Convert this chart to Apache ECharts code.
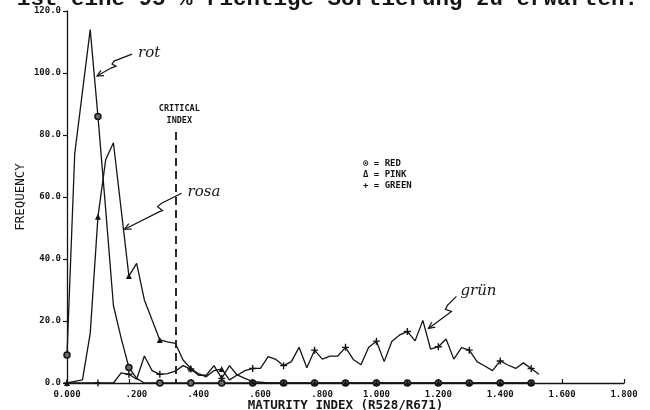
<!DOCTYPE html>
<html>
<head>
<meta charset="utf-8">
<script src="https://cdn.jsdelivr.net/npm/echarts@6/dist/echarts.min.js"></script>
<style>
  html, body { margin: 0; padding: 0; background: #fff; }
  #c { width: 650px; height: 410px; }
</style>
</head>
<body>
<div id="c"></div>
<script>
// Histogram bins of the maturity index (R528/R671), step 0.025
const bins = [0, 0.025, 0.05, 0.075, 0.1, 0.125, 0.15, 0.175, 0.2, 0.225, 0.25, 0.275, 0.3, 0.325, 0.35, 0.375,
  0.4, 0.425, 0.45, 0.475, 0.5, 0.525, 0.55, 0.575, 0.6, 0.625, 0.65, 0.675, 0.7, 0.725, 0.75, 0.775,
  0.8, 0.825, 0.85, 0.875, 0.9, 0.925, 0.95, 0.975, 1.0, 1.025, 1.05, 1.075, 1.1, 1.125, 1.15, 1.175,
  1.2, 1.225, 1.25, 1.275, 1.3, 1.325, 1.35, 1.375, 1.4, 1.425, 1.45, 1.475, 1.5, 1.525];

// Frequencies per bin
const red = [9, 74, 94, 114, 86, 56, 25, 14.5, 5, 1.5, 0, 0, 0, 0, 0, 0,
  0, 0, 0, 0, 0, 0, 0, 0, 0, 0, 0, 0, 0, 0, 0, 0,
  0, 0, 0, 0, 0, 0, 0, 0, 0, 0, 0, 0, 0, 0, 0, 0,
  0, 0, 0, 0, 0, 0, 0, 0, 0, 0, 0, 0, 0];
const pink = [0, 0.5, 1, 16, 53.6, 72, 77.5, 56, 34.5, 38.6, 26.8, 20.3, 13.9, 13.3, 12.8, 7.4,
  4.7, 3, 2, 4, 4.5, 1, 2.6, 1.5, 0.4, 0.3, 0, 0, 0, 0, 0, 0,
  0, 0, 0, 0, 0, 0, 0, 0, 0, 0, 0, 0, 0, 0, 0, 0,
  0, 0, 0, 0, 0, 0, 0, 0, 0, 0, 0, 0, 0];
const green = [0, 0, 0, 0, 0, 0, 0, 3.3, 2.8, 1.2, 8.7, 4.0, 2.8, 3.0, 3.8, 5.6,
  4.5, 2.5, 2.5, 5.6, 1.5, 5.6, 2.5, 4.0, 4.7, 4.7, 8.5, 7.6, 5.6, 6.9, 11.5, 4.9,
  10.6, 7.7, 8.7, 8.7, 11.5, 7.6, 5.9, 11.5, 13.5, 6.9, 13.5, 15.5, 16.6, 13.6, 20.2, 10.9,
  11.7, 14.2, 7.7, 11.4, 10.6, 6.9, 5.5, 4.0, 7.1, 5.8, 4.7, 6.5, 4.7, 2.8];

// Axis tick labels
const xTickLabels = ['0.000', '.200', '.400', '.600', '.800', '1.000', '1.200', '1.400', '1.600', '1.800'];
const yTickLabels = ['0.0', '20.0', '40.0', '60.0', '80.0', '100.0', '120.0'];

// Critical index marker
const criticalIndex = 0.35;
const criticalTop = 81;

const INK = '#151515';
const PLOT_FONT = 'DejaVu Sans Mono';
const HAND_FONT = 'DejaVu Serif';

const chart = echarts.init(document.getElementById('c'), null, { renderer: 'canvas' });

// A marker is plotted on every fourth bin (every 0.1 of the index)
function points(vals, sym) {
  return vals.map((v, i) => ({ value: [bins[i], v], symbol: i % 4 === 0 ? sym : 'none' }));
}

const lineBase = {
  type: 'line',
  showAllSymbol: true,
  symbolSize: 6,
  lineStyle: { color: INK, width: 1.3 },
  emphasis: { disabled: true },
  animation: false
};

const labelFont = { fontFamily: PLOT_FONT, fontSize: 9, fontWeight: 'bold', color: INK };

chart.setOption({
  animation: false,
  backgroundColor: '#fff',
  grid: { left: 67, right: 26, top: 11, bottom: 27, containLabel: false, outerBoundsMode: 'none' },
  xAxis: {
    type: 'value', min: 0, max: 1.8, interval: 0.2,
    name: 'MATURITY INDEX (R528/R671)', nameLocation: 'middle', nameGap: 16, nameMoveOverlap: false,
    nameTextStyle: { fontFamily: PLOT_FONT, fontSize: 12.5, fontWeight: 'bold', color: INK, verticalAlign: 'top' },
    axisLine: { show: true, lineStyle: { color: INK, width: 1.3 } },
    axisTick: { show: true, inside: true, length: 4, lineStyle: { color: INK, width: 1.2 } },
    splitLine: { show: false },
    axisLabel: Object.assign({
      margin: 7,
      formatter: v => {
        const s = xTickLabels[Math.round(v / 0.2)];
        return s.charAt(0) === '.' ? '{p|' + s + '}' : s;
      },
      rich: { p: Object.assign({ padding: [0, 0, 0, 15] }, labelFont) }
    }, labelFont)
  },
  yAxis: {
    type: 'value', min: 0, max: 120, interval: 20,
    name: 'FREQUENCY', nameLocation: 'middle', nameGap: 40, nameRotate: 90, nameMoveOverlap: false,
    nameTextStyle: { fontFamily: PLOT_FONT, fontSize: 12.5, color: INK },
    axisLine: { show: true, lineStyle: { color: INK, width: 1.3 } },
    axisTick: { show: true, inside: false, length: 4, lineStyle: { color: INK, width: 1.2 } },
    splitLine: { show: false },
    axisLabel: Object.assign({
      margin: 6,
      formatter: v => yTickLabels[Math.round(v / 20)]
    }, labelFont)
  },
  series: [
    Object.assign({}, lineBase, {
      name: 'RED',
      data: points(red, 'circle'),
      itemStyle: { color: '#6a6a6a', borderColor: INK, borderWidth: 1.5 },
      markLine: {
        silent: true,
        symbol: ['none', 'none'],
        label: { show: false },
        lineStyle: { color: INK, width: 1.8, type: [8, 5] },
        data: [[{ coord: [criticalIndex, criticalTop] }, { coord: [criticalIndex, 0] }]]
      }
    }),
    Object.assign({}, lineBase, {
      name: 'PINK',
      data: points(pink, 'triangle'),
      itemStyle: { color: INK }
    }),
    Object.assign({}, lineBase, {
      name: 'GREEN',
      data: points(green, 'path://M4,0H6V4H10V6H6V10H4V6H0V4H4Z'),
      symbolSize: 7,
      itemStyle: { color: INK }
    })
  ]
});

// Hand-written notes: label text plus a zig-zag arrow ending on a curve
const notes = [
  { text: 'rot', tip: [0.097, 99], textAt: [41, -23],
    path: [[35, -22], [17, -15], [15, -12], [19, -10], [14, -8], [0, 0]] },
  { text: 'rosa', tip: [0.186, 49.6], textAt: [63, -37],
    path: [[57, -36], [37, -26], [33, -22.6], [38, -18.6], [35, -17.6], [0, 0]] },
  { text: 'grün', tip: [1.168, 17.6], textAt: [32, -37],
    path: [[28, -32], [19, -23], [17, -19], [23, -17], [19, -14], [0, 0]] }
];

function buildGraphics() {
  const g = [];
  // Page text above the figure
  g.push({
    type: 'text', left: 17, top: -12, silent: true,
    style: { text: 'ist eine 95 % richtige Sortierung zu erwarten.', font: 'bold 22.5px "Liberation Mono"', fill: INK }
  });

  // Critical index caption
  const cx = chart.convertToPixel({ xAxisIndex: 0 }, criticalIndex);
  const cy = chart.convertToPixel({ yAxisIndex: 0 }, criticalTop);
  g.push({
    type: 'text', x: cx + 4, y: cy - 23, silent: true,
    style: { text: 'CRITICAL', font: 'bold 8.5px "DejaVu Sans Mono"', fill: INK, align: 'center', verticalAlign: 'middle' }
  });
  g.push({
    type: 'text', x: cx + 4, y: cy - 11, silent: true,
    style: { text: 'INDEX', font: 'bold 8.5px "DejaVu Sans Mono"', fill: INK, align: 'center', verticalAlign: 'middle' }
  });

  // Symbol key
  const key = ['\u2299 = RED', '\u0394 = PINK', '+ = GREEN'];
  key.forEach((t, i) => {
    g.push({
      type: 'text', x: 363, y: 164 + i * 11, silent: true,
      style: { text: t, font: 'bold 9px "DejaVu Sans Mono"', fill: INK, align: 'left', verticalAlign: 'middle' }
    });
  });

  // Annotations
  notes.forEach(n => {
    const p = chart.convertToPixel({ gridIndex: 0 }, n.tip);
    const pts = n.path.map(d => [p[0] + d[0], p[1] + d[1]]);
    g.push({ type: 'polyline', silent: true, shape: { points: pts },
      style: { stroke: INK, lineWidth: 1.2, fill: null } });
    // open arrow head
    const a = pts[pts.length - 2];
    const ang = Math.atan2(a[1] - p[1], a[0] - p[0]);
    const len = 7, spread = 0.45;
    g.push({ type: 'polyline', silent: true, shape: { points: [
        [p[0] + len * Math.cos(ang + spread), p[1] + len * Math.sin(ang + spread)],
        [p[0], p[1]],
        [p[0] + len * Math.cos(ang - spread), p[1] + len * Math.sin(ang - spread)]
      ] }, style: { stroke: INK, lineWidth: 1.2, fill: null } });
    g.push({
      type: 'text', x: p[0] + n.textAt[0], y: p[1] + n.textAt[1], silent: true,
      style: { text: n.text, font: 'italic 15px "' + HAND_FONT + '"', fill: INK, align: 'left', verticalAlign: 'middle' }
    });
  });
  return g;
}

chart.setOption({ graphic: buildGraphics() });
</script>
</body>
</html>
